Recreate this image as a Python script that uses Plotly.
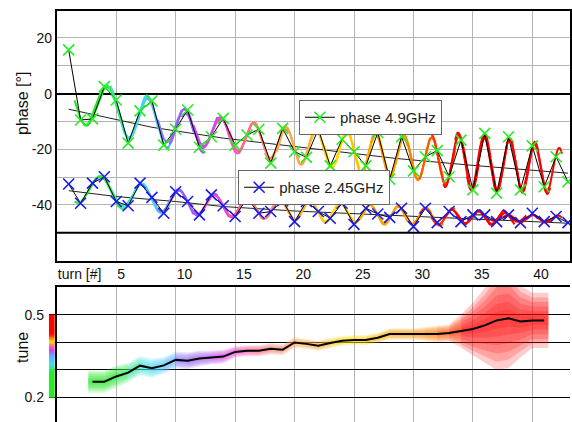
import numpy as np
import plotly.graph_objects as go

# ---------------- data ----------------
turns = list(range(1, 44))
phase_49 = [15.7, -9.5, -9.1, 2.5, -2.3, -17.8, -6.2, -2.6, -18.5, -12.8,
            -5.9, -19.3, -15.5, -8.9, -18.5, -14.9, -12.8, -25.0, -12.5, -20.9,
            -22.9, -12.8, -26.0, -16.4, -20.9, -26.0, -14.0, -30.8, -15.5, -27.8,
            -22.7, -20.5, -29.9, -16.7, -34.6, -14.3, -35.8, -15.5, -34.6, -18.8,
            -33.5, -22.7, -31.7]
phase_245 = [-32.5, -39.4, -32.2, -29.9, -38.8, -40.3, -32.2, -37.3, -43.0, -35.3,
             -38.8, -43.6, -36.4, -40.3, -44.2, -37.6, -43.0, -42.4, -38.5, -46.0,
             -38.8, -42.4, -44.8, -39.4, -47.0, -41.2, -43.3, -44.5, -41.2, -47.8,
             -41.2, -46.4, -42.4, -46.0, -43.6, -43.6, -46.0, -43.6, -46.4, -43.0,
             -46.0, -44.2, -46.4]

trend_turns_49 = [1, 5, 8, 14, 20, 28.5, 35, 43]
trend_49 = [-5.6, -9.2, -12.1, -16.0, -19.0, -23.3, -25.8, -28.6]
trend_turns_245 = [1, 5, 10, 14, 20, 28.5, 35, 43]
trend_245 = [-34.9, -37.0, -38.8, -40.6, -42.2, -43.8, -45.1, -46.6]

tune_turns = list(range(3, 42))
tune = [0.257, 0.257, 0.276, 0.290, 0.315, 0.306, 0.316, 0.336, 0.333, 0.341,
        0.345, 0.348, 0.365, 0.369, 0.369, 0.376, 0.373, 0.399, 0.394, 0.387,
        0.397, 0.405, 0.408, 0.408, 0.416, 0.430, 0.430, 0.430, 0.430, 0.430,
        0.433, 0.441, 0.448, 0.461, 0.479, 0.487, 0.475, 0.479, 0.479]
tune_spread = [0.040, 0.040, 0.040, 0.035, 0.035, 0.035, 0.030, 0.030, 0.030, 0.028,
               0.025, 0.025, 0.020, 0.020, 0.020, 0.020, 0.020, 0.020, 0.018, 0.018,
               0.018, 0.018, 0.018, 0.018, 0.018, 0.020, 0.020, 0.020, 0.025, 0.030,
               0.030, 0.060, 0.095, 0.135, 0.180, 0.180, 0.130, 0.100, 0.100]

x_ticks = [0, 5, 10, 15, 20, 25, 30, 35, 40]
x_ticktext = ["turn [#]", "5", "10", "15", "20", "25", "30", "35", "40"]
y_ticks = [-50, -40, -30, -20, -10, 0, 10, 20]
y_ticktext = ["", "-40", "", "-20", "", "0", "", "20"]
tune_ticks = [0.2, 0.3, 0.4, 0.5]
tune_ticktext = ["0.2", "", "", "0.5"]

# ---------------- style ----------------
seg_colors = ["#22e822", "#22e822", "#30ea50", "#38e8a0", "#40e0e8", "#48d0f8", "#58b8ff",
              "#8878f8", "#9860f0", "#a858f0", "#c848e8", "#e840e0", "#f850c0", "#ff6090",
              "#ff7078", "#ff8068", "#ff9858", "#ffa840", "#ffa840", "#ffb030", "#ffd000",
              "#ffe000", "#ffd800", "#ffc000", "#ffa800", "#ffa000", "#ffa000", "#ff9800",
              "#ff8000", "#ff5800", "#ff3000", "#ff0000", "#ff0000", "#ff0000", "#ff0000",
              "#ff0000", "#ff0000", "#ff0000", "#ff0000"]
bar_scale = [[0.0, "#22ee22"], [0.30, "#22ee22"], [0.40, "#40e0f0"], [0.50, "#58b0ff"],
             [0.57, "#d040f0"], [0.62, "#ff60a0"], [0.67, "#ffe000"], [0.70, "#ffa000"],
             [0.75, "#ff2000"], [0.78, "#ff0000"], [1.0, "#ff0000"]]
FONT = "Liberation Sans, Arial, sans-serif"
W, H = 572, 422
GREEN = "#22ee22"
BLUE = "#1a1aee"


def hex_rgba(h, a):
    h = h.lstrip("#")
    return "rgba(%d,%d,%d,%.3f)" % (int(h[0:2], 16), int(h[2:4], 16), int(h[4:6], 16), a)


def window_fit(t, y, k, q, half=3, span=1.5):
    t = np.asarray(t, float)
    y = np.asarray(y, float)
    m = (t >= k - half) & (t <= k + half) & (t >= 2)
    tt, yy = t[m], y[m]
    w = 2 * np.pi * q
    A = np.column_stack([np.ones_like(tt), tt - k, np.cos(w * tt), np.sin(w * tt)])
    reg = np.diag([0.0, 0.0, 0.3, 0.3])
    coef = np.linalg.solve(A.T @ A + reg, A.T @ yy)
    ts = np.linspace(k - span, k + span, 61)
    B = np.column_stack([np.ones_like(ts), ts - k, np.cos(w * ts), np.sin(w * ts)])
    return ts, B @ coef


fig = go.Figure()

# ---------------- top panel ----------------
fig.add_trace(go.Scatter(x=trend_turns_49, y=trend_49, mode="lines",
                         line=dict(color="#222", width=1), showlegend=False, hoverinfo="skip"))
fig.add_trace(go.Scatter(x=trend_turns_245, y=trend_245, mode="lines",
                         line=dict(color="#222", width=1), showlegend=False, hoverinfo="skip"))

for series in (phase_49, phase_245):
    for k, q, c in zip(tune_turns, tune, seg_colors):
        ts, ys = window_fit(turns, series, k, q)
        fig.add_trace(go.Scatter(x=ts, y=ys, mode="lines", line=dict(color=c, width=2),
                                 showlegend=False, hoverinfo="skip"))

fig.add_trace(go.Scatter(x=turns, y=phase_49, mode="lines+markers", name="phase 4.9GHz",
                         line=dict(color="black", width=1),
                         marker=dict(symbol="x-thin-open", size=11, color=GREEN,
                                     line=dict(color=GREEN, width=1.6)),
                         legend="legend"))
fig.add_trace(go.Scatter(x=turns, y=phase_245, mode="lines+markers", name="phase 2.45GHz",
                         line=dict(color="black", width=1),
                         marker=dict(symbol="x-thin-open", size=11, color=BLUE,
                                     line=dict(color=BLUE, width=1.6)),
                         legend="legend2"))

# ---------------- bottom panel (tune band) ----------------
tt = list(tune_turns)
layers = (1.0, 0.83, 0.67, 0.5, 0.33, 0.17)
for layer in layers:
    for i in range(len(tt) - 1):
        x0, x1 = tt[i], tt[i + 1]
        lo0, hi0 = tune[i] - layer * tune_spread[i], tune[i] + layer * tune_spread[i]
        lo1, hi1 = tune[i + 1] - layer * tune_spread[i + 1], tune[i + 1] + layer * tune_spread[i + 1]
        fig.add_trace(go.Scatter(x=[x0, x1, x1, x0, x0], y=[hi0, hi1, lo1, lo0, hi0],
                                 xaxis="x2", yaxis="y2", mode="lines", fill="toself",
                                 fillcolor=hex_rgba(seg_colors[i], 0.2),
                                 line=dict(width=0), showlegend=False, hoverinfo="skip"))
    for idx, dx in ((0, -0.35), (len(tt) - 1, 0.35)):
        xa, xb = tt[idx], tt[idx] + dx
        lo, hi = tune[idx] - layer * tune_spread[idx], tune[idx] + layer * tune_spread[idx]
        fig.add_trace(go.Scatter(x=[xa, xb, xb, xa, xa], y=[hi, hi, lo, lo, hi],
                                 xaxis="x2", yaxis="y2", mode="lines", fill="toself",
                                 fillcolor=hex_rgba(seg_colors[idx], 0.2),
                                 line=dict(width=0), showlegend=False, hoverinfo="skip"))

fig.add_trace(go.Scatter(x=tune_turns, y=tune, xaxis="x2", yaxis="y2", mode="lines",
                         line=dict(color="black", width=2), showlegend=False))

# colour bar next to the tune axis
edges = np.linspace(0.2, 0.5, 121)
mids = (edges[:-1] + edges[1:]) / 2
fig.add_trace(go.Heatmap(x=[0, 1], y=edges, z=[[v] for v in mids], colorscale=bar_scale,
                         zmin=0.2, zmax=0.5, showscale=False, xaxis="x3", yaxis="y2",
                         hoverinfo="skip"))

# ---------------- layout ----------------
grid_gray = "#b4b4b4"
fig.update_layout(
    width=W, height=H, margin=dict(l=0, r=0, t=0, b=0),
    paper_bgcolor="white", plot_bgcolor="white",
    font=dict(family=FONT, size=13, color="#111"),
    xaxis=dict(domain=[57 / W, 1], range=[0, 43.17], anchor="y",
               tickvals=x_ticks, ticktext=x_ticktext, ticklabelposition="outside right",
               showgrid=True, gridcolor=grid_gray, gridwidth=1, zeroline=False,
               showline=True, mirror=True, linecolor="black", linewidth=2,
               tickfont=dict(size=14, color="#111")),
    yaxis=dict(domain=[1 - 260.5 / H, 1 - 11 / H], range=[-60, 29.7], anchor="x",
               tickvals=y_ticks, ticktext=y_ticktext,
               showgrid=True, gridcolor=grid_gray, gridwidth=1,
               zeroline=True, zerolinecolor="black", zerolinewidth=2,
               showline=True, mirror=True, linecolor="black", linewidth=2,
               tickfont=dict(size=14, color="#111")),
    xaxis2=dict(domain=[57 / W, 1], range=[0, 43.17], anchor="y2", side="top",
                tickvals=x_ticks, showticklabels=False,
                showgrid=True, gridcolor=grid_gray, gridwidth=1, zeroline=False,
                showline=True, linecolor="black", linewidth=2),
    yaxis2=dict(domain=[0, 1 - 287 / H], range=[0.111, 0.6], anchor="x2",
                tickvals=tune_ticks, ticktext=tune_ticktext,
                ticks="outside", ticklen=8, tickcolor="rgba(0,0,0,0)",
                showgrid=True, gridcolor="black", gridwidth=1, zeroline=False,
                showline=True, linecolor="black", linewidth=2,
                tickfont=dict(size=14, color="#111")),
    xaxis3=dict(domain=[49 / W, 55 / W], range=[0, 1], anchor="y2", visible=False),
    legend=dict(x=300 / W, y=1 - 100 / H, xanchor="left", yanchor="top",
                bgcolor="white", bordercolor="#666", borderwidth=1,
                font=dict(size=15, color="#222", family=FONT), itemwidth=30),
    legend2=dict(x=239 / W, y=1 - 170 / H, xanchor="left", yanchor="top",
                 bgcolor="white", bordercolor="#666", borderwidth=1,
                 font=dict(size=15, color="#222", family=FONT), itemwidth=30),
    shapes=[dict(type="line", xref="x domain", x0=0, x1=1, yref="y", y0=-50, y1=-50,
                 line=dict(color="black", width=2), layer="above")],
    annotations=[
        dict(text="phase [°]", xref="paper", yref="paper", x=22 / W, y=1 - 103 / H,
             xanchor="center", yanchor="middle",
             textangle=-90, showarrow=False, font=dict(size=16, color="#111")),
        dict(text="tune", xref="paper", yref="paper", x=22 / W, y=1 - 347 / H,
             xanchor="center", yanchor="middle",
             textangle=-90, showarrow=False, font=dict(size=16, color="#111")),
    ],
)

fig.write_html("out.html")
